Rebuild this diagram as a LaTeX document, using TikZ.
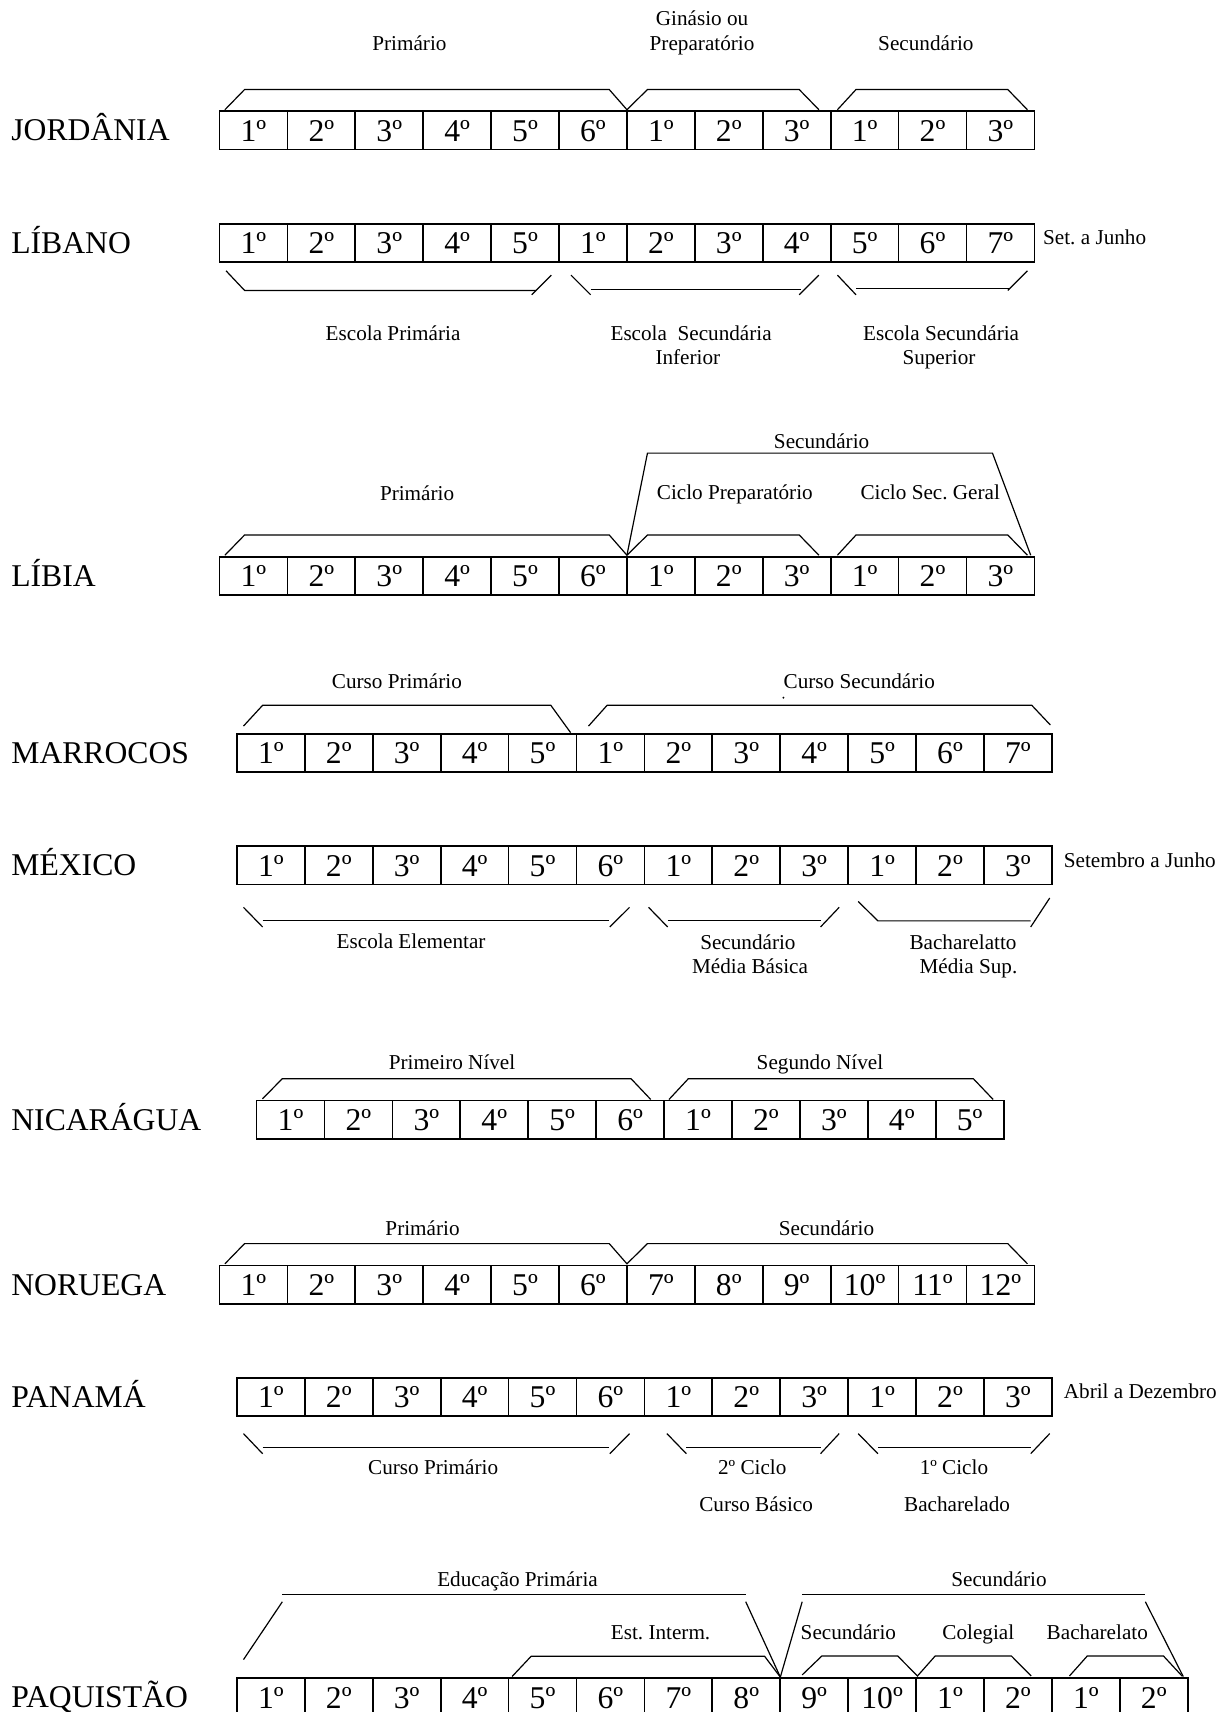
\documentclass[tikz,border=0pt]{standalone}
\usepackage{fontspec}
\setmainfont{Liberation Serif}
\frenchspacing
\newcommand{\bigf}{\fontsize{14.5pt}{17pt}\selectfont}
\newcommand{\smallf}{\fontsize{9.7pt}{11.6pt}\selectfont}
\tikzset{
  cell/.style={draw, line width=0.8pt, minimum width=31.1pt, minimum height=17.5pt,
    inner sep=0pt, font=\bigf, text height=9.86pt, text depth=0pt},
  country/.style={anchor=west, inner sep=0pt, font=\bigf, text height=9.6pt, text depth=0pt},
  lbl/.style={inner sep=0pt, font=\smallf, text height=6.6pt, text depth=0pt},
  brk/.style={line width=0.55pt},
}
\newcommand{\gradrow}[4]{\foreach \t [count=\i] in {#4}{\node[cell] (#1\i) at ({#2+(\i-0.5)*62.2},{#3+17.5}) {\t};}}
\begin{document}
\begin{tikzpicture}[x=0.5pt,y=-0.5pt]
\useasboundingbox (0,0) rectangle (1122,1568);

% JORDANIA
\node[country] (cJo) at (10,119) {JORDÂNIA};
\gradrow{jo}{201}{102}{1º,2º,3º,4º,5º,6º,1º,2º,3º,1º,2º,3º}
\draw[brk] (206,100.5)--(224,82)--(558,82)--(574.2,100.5)--(593,82)--(732,82)--(750,100.5);
\draw[brk] (767,100.5)--(784,82)--(923,82)--(941,100.5);
\node[lbl] (lJo1) at (375,40) {Primário};
\node[lbl] (lJo2) at (643,17) {Ginásio ou};
\node[lbl] (lJo3) at (643,40) {Preparatório};
\node[lbl] (lJo4) at (848,40) {Secundário};

% LIBANO
\node[country] (cLb) at (10,222.5) {LÍBANO};
\gradrow{lb}{201}{205}{1º,2º,3º,4º,5º,1º,2º,3º,4º,5º,6º,7º}
\node[lbl,anchor=west] (sLb) at (955,217.5) {Set. a Junho};
\draw[brk] (207,248)--(224,266)--(491,266);
\draw[brk] (487,270)--(505,252);
\draw[brk] (523,252)--(541,270);
\draw[brk] (541,265)--(734,265);
\draw[brk] (732,270)--(750,252);
\draw[brk] (767,252)--(784,270);
\draw[brk] (784,264)--(924,264);
\draw[brk] (923,266)--(941,248);
\node[lbl] (lLb1) at (360,305) {Escola Primária};
\node[lbl] (lLb2) at (633,305) {Escola\ \ Secundária};
\node[lbl] (lLb3) at (630,327) {Inferior};
\node[lbl] (lLb4) at (862,305) {Escola Secundária};
\node[lbl] (lLb5) at (860,327) {Superior};

% LIBIA
\node[country] (cLi) at (10,527.5) {LÍBIA};
\gradrow{li}{201}{510}{1º,2º,3º,4º,5º,6º,1º,2º,3º,1º,2º,3º}
\draw[brk] (206,508.5)--(224,490)--(558,490)--(574.2,508.5)--(593,490)--(732,490)--(750,508.5);
\draw[brk] (767,508.5)--(784,490)--(923,490)--(941,508.5);
\draw[brk] (574.2,508.5)--(593,415)--(909,415)--(944,508.5);
\node[lbl] (lLi1) at (382,452) {Primário};
\node[lbl] (lLi2) at (752.5,404) {Secundário};
\node[lbl] (lLi3) at (673,451) {Ciclo Preparatório};
\node[lbl] (lLi4) at (852,451) {Ciclo Sec. Geral};

% MARROCOS
\node[country] (cMa) at (10,689.5) {MARROCOS};
\gradrow{ma}{217}{672}{1º,2º,3º,4º,5º,1º,2º,3º,4º,5º,6º,7º}
\draw[brk] (223,665)--(240.5,646)--(504.5,646)--(522.6,671);
\draw[brk] (539,665)--(556,646)--(945,646)--(962,664);
\node[lbl] (lMa1) at (363.5,624) {Curso Primário};
\node[lbl] (lMa2) at (787,624) {Curso Secundário};
\fill (717.5,639) circle (1);

% MEXICO
\node[country] (cMx) at (10,792.5) {MÉXICO};
\gradrow{mx}{217}{775}{1º,2º,3º,4º,5º,6º,1º,2º,3º,1º,2º,3º}
\node[lbl,anchor=west] (sMx) at (974,788) {Setembro a Junho};
\draw[brk] (223,831)--(240.5,849); \draw[brk] (240.5,843)--(558,843); \draw[brk] (558.5,849)--(576.6,831);
\draw[brk] (594,831)--(611.5,849); \draw[brk] (611.5,843)--(751.5,843); \draw[brk] (751.5,849)--(768.6,831);
\draw[brk] (786,825.6)--(804,843.4)--(944,843.4); \draw[brk] (944,849)--(961.4,822.5);
\node[lbl] (lMx1) at (376.5,862.5) {Escola Elementar};
\node[lbl] (lMx2) at (685,863) {Secundário};
\node[lbl] (lMx3) at (687,885) {Média Básica};
\node[lbl] (lMx4) at (882,863) {Bacharelatto};
\node[lbl] (lMx5) at (887,885) {Média Sup.};

% NICARAGUA
\node[country] (cNi) at (10,1025.5) {NICARÁGUA};
\gradrow{ni}{235}{1008}{1º,2º,3º,4º,5º,6º,1º,2º,3º,4º,5º}
\draw[brk] (240.4,1006.4)--(258.5,988)--(578,988)--(596,1007);
\draw[brk] (612.7,1007)--(630.4,988)--(891.5,988)--(909.6,1007);
\node[lbl] (lNi1) at (414,973) {Primeiro Nível};
\node[lbl] (lNi2) at (751,973) {Segundo Nível};

% NORUEGA
\node[country] (cNo) at (10,1176.5) {NORUEGA};
\gradrow{no}{201}{1159}{1º,2º,3º,4º,5º,6º,7º,8º,9º,10º,11º,12º}
\draw[brk] (206,1157.5)--(224,1139)--(558,1139)--(574.2,1157.5)--(593,1139)--(923,1139)--(941,1157.5);
\node[lbl] (lNo1) at (387,1125) {Primário};
\node[lbl] (lNo2) at (757,1125) {Secundário};

% PANAMA
\node[country] (cPa) at (10,1279.5) {PANAMÁ};
\gradrow{pa}{217}{1262}{1º,2º,3º,4º,5º,6º,1º,2º,3º,1º,2º,3º}
\node[lbl,anchor=west] (sPa) at (974,1274) {Abril a Dezembro};
\draw[brk] (223,1313)--(240.5,1331.4); \draw[brk] (240.5,1325.8)--(558,1325.8); \draw[brk] (558.5,1331.4)--(576.6,1313);
\draw[brk] (610.8,1313)--(628.6,1331.4); \draw[brk] (628.6,1325.8)--(751.5,1325.8); \draw[brk] (751.5,1331.4)--(768.6,1313);
\draw[brk] (786,1313)--(804,1331.4); \draw[brk] (804,1325.8)--(944,1325.8); \draw[brk] (944,1331.4)--(961.4,1313);
\node[lbl] (lPa1) at (396.7,1344) {Curso Primário};
\node[lbl] (lPa2) at (689,1344) {2º Ciclo};
\node[lbl] (lPa3) at (873.7,1344) {1º Ciclo};
\node[lbl] (lPa4) at (692.5,1378) {Curso Básico};
\node[lbl] (lPa5) at (876.6,1378) {Bacharelado};

% PAQUISTAO
\node[country] (cPk) at (10,1554.5) {PAQUISTÃO};
\gradrow{pk}{217}{1537}{1º,2º,3º,4º,5º,6º,7º,8º,9º,10º,1º,2º,1º,2º}
\draw[brk] (223,1520)--(258.6,1467); \draw[brk] (258.6,1460)--(683,1460); \draw[brk] (683,1467)--(714.7,1536);
\draw[brk] (469,1535.5)--(486.4,1517)--(700.3,1517)--(714.7,1536);
\draw[brk] (714.7,1536)--(734.7,1467); \draw[brk] (734.7,1460)--(1049,1460); \draw[brk] (1049,1467)--(1083.7,1535.5);
\draw[brk] (734.7,1534)--(752.7,1516.7)--(822.2,1516.7)--(840.3,1535)--(856.5,1516.7)--(926.3,1516.7)--(944.4,1535);
\draw[brk] (979.5,1535)--(995.8,1516.7)--(1065.6,1516.7)--(1082.6,1535);
\node[lbl] (lPk1) at (474,1446) {Educação Primária};
\node[lbl] (lPk2) at (605,1495) {Est. Interm.};
\node[lbl] (lPk3) at (915,1446) {Secundário};
\node[lbl] (lPk4) at (777,1495) {Secundário};
\node[lbl] (lPk5) at (896,1495) {Colegial};
\node[lbl] (lPk6) at (1005,1495) {Bacharelato};
\end{tikzpicture}
\end{document}
